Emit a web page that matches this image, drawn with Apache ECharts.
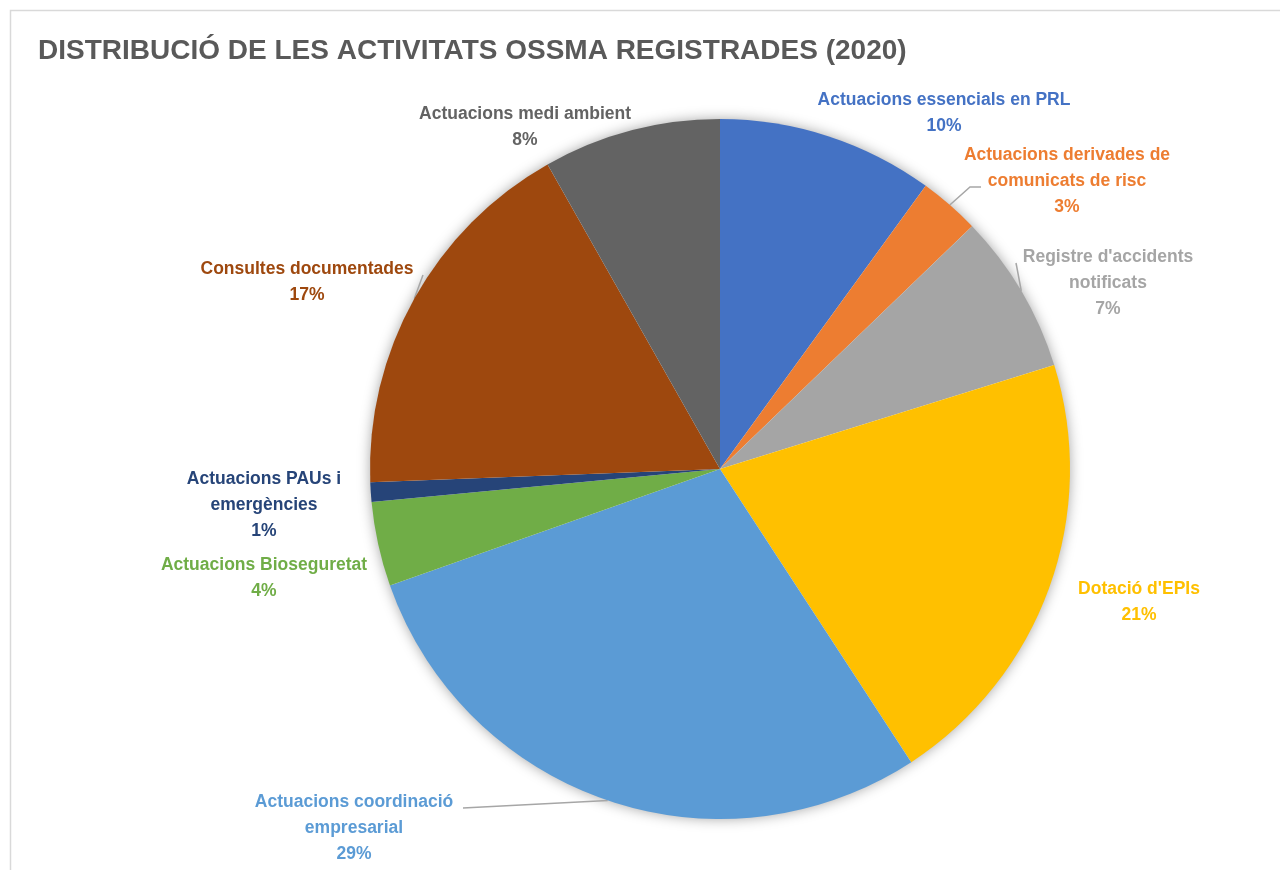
<!DOCTYPE html>
<html>
<head>
<meta charset="utf-8">
<script src="https://cdn.jsdelivr.net/npm/echarts@6/dist/echarts.min.js"></script>
<style>
html,body{margin:0;padding:0;background:#fff;}
#c{width:1280px;height:870px;}
</style>
</head>
<body>
<div id="c"></div>
<script>
const categories = [
  "Actuacions essencials en PRL",
  "Actuacions derivades de\ncomunicats de risc",
  "Registre d'accidents\nnotificats",
  "Dotació d'EPIs",
  "Actuacions coordinació\nempresarial",
  "Actuacions Bioseguretat",
  "Actuacions PAUs i\nemergències",
  "Consultes documentades",
  "Actuacions medi ambient"
];
const values = [10.0, 2.8, 7.4, 20.6, 28.8, 3.9, 0.9, 17.4, 8.2];
const titleText = "DISTRIBUCIÓ DE LES ACTIVITATS OSSMA REGISTRADES (2020)";

const colors = ["#4472C4","#ED7D31","#A5A5A5","#FFC000","#5B9BD5","#70AD47","#264478","#9E480E","#636363"];
// label centres (layout only)
const labelPos = [[944,113],[1067,181],[1108,283],[1139,602],[354,828],[264,578],[264,505],[307,282],[525,127]];
// leader line tails (layout only); null = no leader line
const leaderTail = [null, [[970,187],[981,187]], [[1016,263],[1016,263]], null, [[463,808],[463,808]], null, null, [[423,275],[423,275]], null];

const FONT = "'Liberation Sans', Arial, sans-serif";
const chart = echarts.init(document.getElementById('c'), null, {renderer:'canvas'});

const data = categories.map((n,i)=>({
  name:n, value:values[i],
  itemStyle:{color:colors[i]},
  label:{color:colors[i]},
  labelLine:{show: leaderTail[i]!==null}
}));

chart.setOption({
  animation:false,
  backgroundColor:'#fff',
  graphic:[{type:'rect', shape:{x:10.5,y:10.5,width:1400,height:1000}, style:{fill:'none', stroke:'#D9D9D9', lineWidth:1.5}, z:-1}],
  title:{text:titleText, left:33, top:32, textStyle:{fontFamily:FONT, fontSize:28, fontWeight:'bold', color:'#595959'}},
  series:[{
    type:'pie',
    silent:true,
    center:[720,469],
    radius:349,
    z:1,
    label:{show:false}, labelLine:{show:false},
    itemStyle:{color:'#ffffff', shadowBlur:14, shadowColor:'rgba(0,0,0,0.4)'},
    data:[{name:'', value:1}]
  },{
    type:'pie',
    z:2,
    center:[720,469],
    radius:350,
    startAngle:90,
    clockwise:true,
    avoidLabelOverlap:false,
    itemStyle:{borderWidth:0},
    label:{show:true, position:'outside', fontFamily:FONT, fontSize:17.5, fontWeight:'bold', lineHeight:26, align:'center',
      formatter:p=>p.name+'\n'+Math.round(p.percent)+'%'},
    labelLine:{show:true, lineStyle:{color:'#A6A6A6', width:1.5}, length:10, length2:10},
    labelLayout:function(p){
      const i=p.dataIndex;
      const r={x:labelPos[i][0], y:labelPos[i][1], align:'center', verticalAlign:'middle'};
      if(leaderTail[i] && p.labelLinePoints){
        const s=p.labelLinePoints[0];
        r.labelLinePoints=[[s[0],s[1]], leaderTail[i][0], leaderTail[i][1]];
      }
      return r;
    },
    data:data
  }]
});
</script>
</body>
</html>
